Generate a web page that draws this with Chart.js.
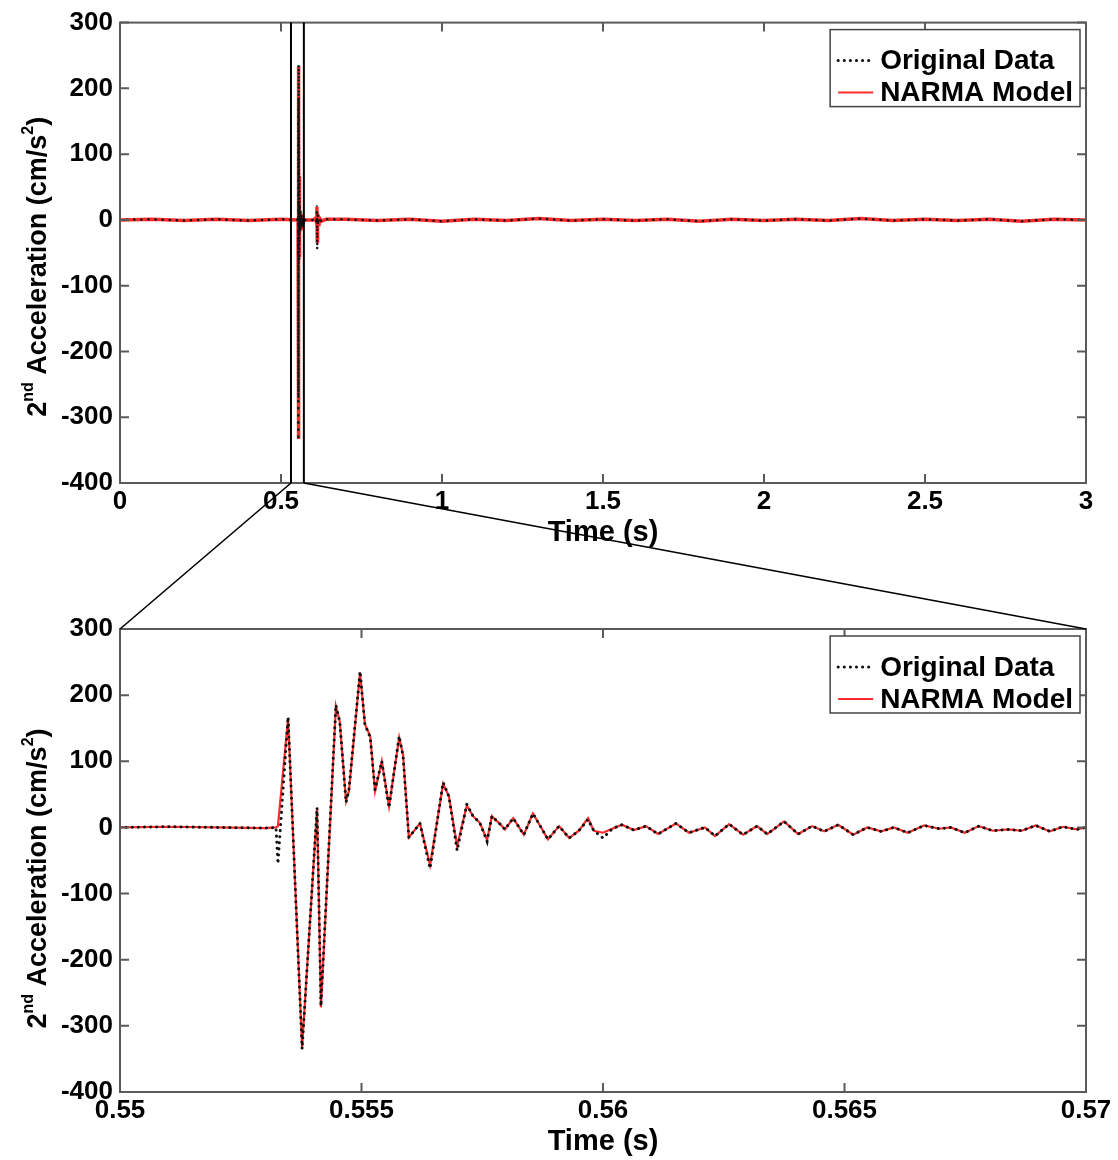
<!DOCTYPE html>
<html>
<head>
<meta charset="UTF-8">
<title>2nd Acceleration - Original Data vs NARMA Model</title>
<script src="https://cdn.jsdelivr.net/npm/chart.js"></script>
<style>
  body { margin: 0; background: #fff; }
  .page { position: relative; width: 1118px; height: 1160px; }
  .page canvas { position: absolute; left: 0; }
  #full { top: 0; }
  #zoom { top: 560px; }
  #overlay { top: 0; pointer-events: none; }
</style>
</head>
<body>
<div class="page">
  <canvas id="full" width="1118" height="560"></canvas>
  <canvas id="zoom" width="1118" height="600"></canvas>
  <canvas id="overlay" width="1118" height="1160"></canvas>
</div>
<script>
// ---- data ----
// zoomed window 0.55 - 0.57 s
const zoomTimes = [0.5500, 0.5510, 0.5520, 0.5530, 0.55323, 0.55327, 0.55348, 0.55377, 0.55408, 0.55416,
  0.55447, 0.55455, 0.55468, 0.55474, 0.55497, 0.55507, 0.55518, 0.55528, 0.55542, 0.55557,
  0.55578, 0.55586, 0.55598, 0.55621, 0.55642, 0.55669, 0.55681, 0.55698, 0.55718, 0.55731,
  0.55745, 0.55760, 0.55770, 0.55787, 0.55797, 0.55814, 0.55836, 0.55855, 0.55886, 0.55909,
  0.55930, 0.55950, 0.55969, 0.55981, 0.56000, 0.56019, 0.56039, 0.56064, 0.56089, 0.56114,
  0.56151, 0.56178, 0.56211, 0.56232, 0.56261, 0.56290, 0.56319, 0.56340, 0.56375, 0.56404,
  0.56433, 0.56458, 0.56487, 0.56518, 0.56547, 0.56576, 0.56602, 0.56631, 0.56665, 0.56696,
  0.56720, 0.56749, 0.56778, 0.56807, 0.56839, 0.56867, 0.56896, 0.56925, 0.56952, 0.56981, 0.57000];
const zoomOriginal = [0, 1, 0, -1, 0, -55, 167, -335, 30, -270,
  185, 160, 38, 57, 236, 156, 136, 57, 100, 30,
  138, 108, -15, 6, -62, 68, 47, -35, 35, 17,
  7, -21, 17, 5, -3, 14, -11, 21, -18, 2,
  -16, -5, 12, -5, -16, -2, 4, -4, 2, -10,
  6, -8, 0, -13, 5, -11, 2, -10, 9, -10,
  2, -6, 4, -11, 0, -6, 0, -8, 3, -2,
  0, -8, 2, -5, -3, -5, 3, -6, 1, -3, 0];
const zoomModel = [0, 1, 0, -1, 0, 2, 165, -333, 28, -272,
  183, 160, 40, 55, 234, 156, 138, 55, 100, 32,
  136, 110, -15, 6, -57, 66, 47, -28, 33, 17,
  7, -19, 17, 5, -3, 14, -11, 21, -18, 2,
  -16, -5, 14, -5, -8, -2, 4, -4, 2, -10,
  6, -8, 0, -13, 5, -11, 2, -10, 9, -10,
  2, -6, 4, -11, 0, -6, 0, -8, 3, -2,
  0, -8, 2, -5, -3, -5, 3, -6, 1, -3, 0];

// second small burst near 0.61 s
const burstTimes = [0.600, 0.608, 0.6105, 0.6115, 0.6125, 0.6135, 0.615, 0.618, 0.625, 0.640];
const burstOriginal = [0, 3, -6, 22, -45, 12, -8, 4, -2, 1];
const burstModel = [0, 3, -5, 20, -32, 10, -7, 4, -2, 1];

// quiet baseline of the full record
const baselineTimes = [0, 0.1, 0.2, 0.3, 0.4, 0.5, 0.7, 0.8, 0.9, 1.0, 1.1, 1.2, 1.3, 1.4, 1.5,
  1.6, 1.7, 1.8, 1.9, 2.0, 2.1, 2.2, 2.3, 2.4, 2.5, 2.6, 2.7, 2.8, 2.9, 3.0];
const baselineValues = [0, 1, -1, 1, -1, 1, 1, -1, 1, -2, 1, -1, 2, -1, 1,
  -1, 1, -2, 1, -1, 1, -1, 2, -1, 1, -1, 1, -2, 1, 0];

// axes
const fullTicksX = [0, 0.5, 1, 1.5, 2, 2.5, 3];
const fullLabelsX = ['0', '0.5', '1', '1.5', '2', '2.5', '3'];
const zoomTicksX = [0.55, 0.555, 0.56, 0.565, 0.57];
const zoomLabelsX = ['0.55', '0.555', '0.56', '0.565', '0.57'];
const ticksY = [300, 200, 100, 0, -100, -200, -300, -400];
const labelsY = ['300', '200', '100', '0', '-100', '-200', '-300', '-400'];
const zoomBox = [0.531, 0.571];   // highlight window drawn on the full record

const seriesNames = ['Original Data', 'NARMA Model'];

// ---- helpers ----
function toPoints(times, values) {
  return times.map((t, i) => ({ x: t, y: values[i] }));
}
function merged(parts) {
  return parts.flatMap(p => toPoints(p[0], p[1])).sort((a, b) => a.x - b.x);
}

Chart.defaults.font.family = '"Liberation Sans", Arial, sans-serif';
Chart.defaults.font.weight = 'bold';
Chart.defaults.font.size = 26;
Chart.defaults.color = '#000';

// box + inward ticks on all four sides, like matlab
const matlabFrame = {
  id: 'matlabFrame',
  afterDatasetsDraw(chart) {
    const { ctx, chartArea: a, scales: { x, y } } = chart;
    ctx.save();
    ctx.strokeStyle = '#5a5a5a';
    ctx.lineWidth = 2;
    ctx.beginPath();
    x.ticks.forEach(t => {
      const px = x.getPixelForValue(t.value);
      ctx.moveTo(px, a.bottom); ctx.lineTo(px, a.bottom - 9);
      ctx.moveTo(px, a.top); ctx.lineTo(px, a.top + 9);
    });
    y.ticks.forEach(t => {
      const py = y.getPixelForValue(t.value);
      ctx.moveTo(a.left, py); ctx.lineTo(a.left + 9, py);
      ctx.moveTo(a.right, py); ctx.lineTo(a.right - 9, py);
    });
    ctx.stroke();
    ctx.strokeRect(a.left, a.top, a.right - a.left, a.bottom - a.top);
    ctx.restore();
  }
};

// boxed legend in the upper right corner
const insetLegend = {
  id: 'insetLegend',
  afterDraw(chart, args, opts) {
    const { ctx, chartArea: a } = chart;
    const sets = chart.data.datasets;
    ctx.save();
    ctx.font = 'bold 28px "Liberation Sans", Arial, sans-serif';
    const textW = Math.max(...sets.map(d => ctx.measureText(d.label).width));
    const right = a.right - 6;
    const top = a.top + opts.top;
    const textX = right - 7 - textW;
    const left = textX - 50;
    ctx.fillStyle = '#fff';
    ctx.fillRect(left, top, right - left, opts.height);
    ctx.strokeStyle = '#444';
    ctx.lineWidth = 1.5;
    ctx.strokeRect(left, top, right - left, opts.height);
    sets.forEach((d, i) => {
      const cy = top + opts.rows[i];
      ctx.setLineDash(d.legendDash || []);
      ctx.lineCap = d.borderCapStyle || 'butt';
      ctx.strokeStyle = d.borderColor;
      ctx.lineWidth = d.legendWidth;
      ctx.beginPath();
      ctx.moveTo(left + 8, cy);
      ctx.lineTo(textX - 7, cy);
      ctx.stroke();
      ctx.setLineDash([]);
      ctx.fillStyle = '#000';
      ctx.textBaseline = 'middle';
      ctx.fillText(d.label, textX, cy + 1);
    });
    ctx.restore();
  }
};

// y title with superscripts: 2^nd Acceleration (cm/s^2)
const supTitle = {
  id: 'supTitle',
  afterDraw(chart, args, opts) {
    const { ctx, chartArea: a } = chart;
    const parts = [['2', false], ['nd', true], [' Acceleration (cm/s', false], ['2', true], [')', false]];
    const big = 'bold 27px "Liberation Sans", Arial, sans-serif';
    const small = 'bold 16px "Liberation Sans", Arial, sans-serif';
    ctx.save();
    let total = 0;
    parts.forEach(p => { ctx.font = p[1] ? small : big; total += ctx.measureText(p[0]).width; });
    ctx.translate(opts.x, (a.top + a.bottom) / 2 + opts.dy);
    ctx.rotate(-Math.PI / 2);
    ctx.fillStyle = '#000';
    ctx.textBaseline = 'alphabetic';
    let cx = -total / 2;
    parts.forEach(p => {
      ctx.font = p[1] ? small : big;
      ctx.fillText(p[0], cx, p[1] ? -3 : 10);
      cx += ctx.measureText(p[0]).width;
    });
    ctx.restore();
  }
};

function makeDatasets(original, model, st) {
  return [{
    label: seriesNames[0],
    data: original,
    borderColor: '#111',
    borderWidth: st.dotW,
    borderDash: st.dash,
    legendDash: [0.1, 6],
    legendWidth: 3,
    borderCapStyle: 'round',
    pointRadius: 0,
    tension: 0,
    fill: false
  }, {
    label: seriesNames[1],
    data: model,
    borderColor: '#ff2b2b',
    borderWidth: st.lineW,
    legendWidth: 2,
    pointRadius: 0,
    tension: 0,
    fill: false
  }];
}

function makeOptions(cfg) {
  return {
    responsive: false,
    animation: false,
    events: [],
    layout: { padding: { top: cfg.padTop, right: 32, left: 0, bottom: 0 } },
    scales: {
      x: {
        type: 'linear',
        min: cfg.ticksX[0],
        max: cfg.ticksX[cfg.ticksX.length - 1],
        afterBuildTicks: s => { s.ticks = cfg.ticksX.map(v => ({ value: v })); },
        afterFit: s => { s.height = cfg.xHeight; },
        grid: { display: false, drawTicks: false },
        border: { display: false },
        ticks: {
          autoSkip: false, maxRotation: 0, padding: 3,
          callback: v => cfg.labelsX[cfg.ticksX.indexOf(v)]
        },
        title: {
          display: true, text: 'Time (s)',
          font: { size: 29, weight: 'bold' },
          padding: { top: 0, bottom: cfg.titlePad }
        }
      },
      y: {
        min: -400,
        max: 300,
        afterBuildTicks: s => { s.ticks = ticksY.map(v => ({ value: v })); },
        afterFit: s => { s.width = 120; },
        grid: { display: false, drawTicks: false },
        border: { display: false },
        ticks: { padding: 7, callback: v => labelsY[ticksY.indexOf(v)] }
      }
    },
    plugins: {
      legend: { display: false },
      tooltip: { enabled: false },
      insetLegend: { top: 7, height: 77, rows: [31, 63] },
      supTitle: { x: 36, dy: cfg.titleDy }
    }
  };
}

const fullOriginal = merged([[baselineTimes, baselineValues], [zoomTimes, zoomOriginal], [burstTimes, burstOriginal]]);
const fullModel = merged([[baselineTimes, baselineValues], [zoomTimes, zoomModel], [burstTimes, burstModel]]);

const fullChart = new Chart(document.getElementById('full'), {
  type: 'line',
  data: { datasets: makeDatasets(fullOriginal, fullModel, { dotW: 2.5, dash: [0.1, 7], lineW: 3.5 }) },
  options: makeOptions({ ticksX: fullTicksX, labelsX: fullLabelsX, padTop: 20, xHeight: 77, titlePad: 10, titleDy: 14 }),
  plugins: [matlabFrame, insetLegend, supTitle]
});

const zoomChart = new Chart(document.getElementById('zoom'), {
  type: 'line',
  data: { datasets: makeDatasets(toPoints(zoomTimes, zoomOriginal), toPoints(zoomTimes, zoomModel), { dotW: 3, dash: [0.1, 6], lineW: 2.2 }) },
  options: makeOptions({ ticksX: zoomTicksX, labelsX: zoomLabelsX, padTop: 69, xHeight: 68, titlePad: 1, titleDy: 18 }),
  plugins: [matlabFrame, insetLegend, supTitle]
});

// highlight window on the full record and the lines joining it to the zoomed plot
function drawZoomLinks() {
  const ov = document.getElementById('overlay').getContext('2d');
  const fa = fullChart.chartArea;
  const za = zoomChart.chartArea;
  const zOff = document.getElementById('zoom').offsetTop;
  const x0 = fullChart.scales.x.getPixelForValue(zoomBox[0]);
  const x1 = fullChart.scales.x.getPixelForValue(zoomBox[1]);
  ov.strokeStyle = '#000';
  ov.lineWidth = 2;
  ov.beginPath();
  ov.moveTo(x0, fa.top); ov.lineTo(x0, fa.bottom);
  ov.moveTo(x1, fa.top); ov.lineTo(x1, fa.bottom);
  ov.stroke();
  ov.lineWidth = 1.6;
  ov.beginPath();
  ov.moveTo(x0, fa.bottom); ov.lineTo(za.left, za.top + zOff);
  ov.moveTo(x1, fa.bottom); ov.lineTo(za.right, za.top + zOff);
  ov.stroke();
}
drawZoomLinks();
</script>
</body>
</html>
